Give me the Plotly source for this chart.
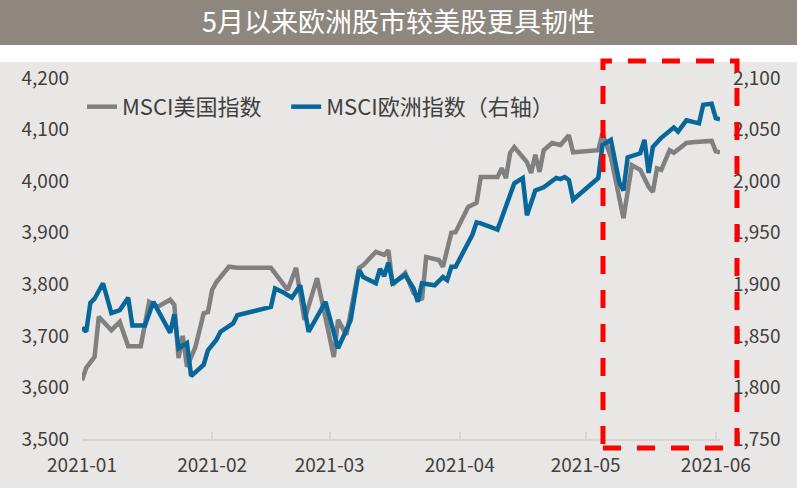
import plotly.graph_objects as go

title = "5月以来欧洲股市较美股更具韧性"

us_dates = ["2021-01-01", "2021-01-02", "2021-01-04", "2021-01-05", "2021-01-08", "2021-01-10",
            "2021-01-12", "2021-01-15", "2021-01-17", "2021-01-19", "2021-01-22", "2021-01-23",
            "2021-01-24", "2021-01-25", "2021-01-26", "2021-01-28", "2021-01-30", "2021-01-31",
            "2021-02-01", "2021-02-02", "2021-02-05", "2021-02-07", "2021-02-15", "2021-02-19",
            "2021-02-21", "2021-02-23", "2021-02-26", "2021-03-02", "2021-03-03", "2021-03-05",
            "2021-03-08", "2021-03-09", "2021-03-12", "2021-03-14", "2021-03-15", "2021-03-16",
            "2021-03-19", "2021-03-21", "2021-03-23", "2021-03-24", "2021-03-27", "2021-03-28",
            "2021-03-30", "2021-03-31", "2021-04-03", "2021-04-05", "2021-04-06", "2021-04-10",
            "2021-04-11", "2021-04-12", "2021-04-13", "2021-04-14", "2021-04-17", "2021-04-18",
            "2021-04-19", "2021-04-20", "2021-04-21", "2021-04-23", "2021-04-25", "2021-04-27",
            "2021-04-28", "2021-05-04", "2021-05-05", "2021-05-06", "2021-05-07", "2021-05-10",
            "2021-05-11", "2021-05-12", "2021-05-14", "2021-05-16", "2021-05-17", "2021-05-18",
            "2021-05-19", "2021-05-21", "2021-05-22", "2021-05-25", "2021-05-27", "2021-05-29",
            "2021-05-31", "2021-06-01", "2021-06-02"]
us_values = [3614, 3638, 3659, 3737, 3711, 3727,
             3680, 3680, 3766, 3756, 3770, 3760,
             3657, 3700, 3640, 3678, 3744, 3746,
             3789, 3804, 3834, 3832, 3832, 3789,
             3832, 3731, 3812, 3659, 3731, 3702,
             3832, 3837, 3863, 3857, 3866, 3799,
             3822, 3783, 3770, 3853, 3847, 3834,
             3900, 3901, 3950, 3958, 4008, 4008,
             4025, 4006, 4055, 4066, 4037, 4016,
             4051, 4018, 4060, 4074, 4070, 4089,
             4056, 4060, 4093, 4070, 4047, 3928,
             3983, 4031, 4022, 3989, 3979, 4025,
             4022, 4060, 4055, 4074, 4076, 4076,
             4078, 4058, 4056]

eu_dates = ["2021-01-01", "2021-01-02", "2021-01-03", "2021-01-04", "2021-01-06", "2021-01-08",
            "2021-01-10", "2021-01-12", "2021-01-13", "2021-01-16", "2021-01-18", "2021-01-22",
            "2021-01-23", "2021-01-24", "2021-01-26", "2021-01-27", "2021-01-30", "2021-01-31",
            "2021-02-02", "2021-02-03", "2021-02-06", "2021-02-07", "2021-02-15", "2021-02-16",
            "2021-02-18", "2021-02-20", "2021-02-22", "2021-02-24", "2021-02-28", "2021-03-03",
            "2021-03-06", "2021-03-07", "2021-03-08", "2021-03-09", "2021-03-12", "2021-03-13",
            "2021-03-14", "2021-03-15", "2021-03-16", "2021-03-19", "2021-03-21", "2021-03-22",
            "2021-03-23", "2021-03-26", "2021-03-28", "2021-03-29", "2021-03-30", "2021-03-31",
            "2021-04-04", "2021-04-05", "2021-04-06", "2021-04-10", "2021-04-12", "2021-04-14",
            "2021-04-16", "2021-04-17", "2021-04-19", "2021-04-21", "2021-04-24", "2021-04-25",
            "2021-04-26", "2021-04-27", "2021-04-28", "2021-05-01", "2021-05-04", "2021-05-05",
            "2021-05-07", "2021-05-09", "2021-05-10", "2021-05-11", "2021-05-14", "2021-05-15",
            "2021-05-16", "2021-05-17", "2021-05-19", "2021-05-22", "2021-05-23", "2021-05-25",
            "2021-05-28", "2021-05-29", "2021-05-31", "2021-06-01", "2021-06-02"]
eu_values = [1858, 1854, 1882, 1886, 1901, 1872,
             1875, 1887, 1860, 1860, 1883, 1853,
             1871, 1838, 1843, 1811, 1822, 1836,
             1846, 1854, 1862, 1870, 1878, 1896,
             1892, 1887, 1899, 1854, 1883, 1838,
             1865, 1887, 1914, 1907, 1901, 1915,
             1908, 1921, 1901, 1909, 1896, 1883,
             1901, 1899, 1907, 1904, 1917, 1917,
             1948, 1960, 1959, 1953, 1977, 1998,
             2003, 1967, 1991, 1994, 2003, 2002,
             2004, 2001, 1982, 1993, 2003, 2035,
             2040, 1999, 1991, 2023, 2027, 2040,
             2008, 2033, 2042, 2052, 2048, 2059,
             2056, 2074, 2075, 2061, 2060]

left_ticks = [3500, 3600, 3700, 3800, 3900, 4000, 4100, 4200]
right_ticks = [1750, 1800, 1850, 1900, 1950, 2000, 2050, 2100]

font = "Noto Sans CJK SC"
bg = "#e8e7e5"
axis_col = "#d6d5d3"

fig = go.Figure()
# trailing no-break spaces push the second legend entry to the right
fig.add_trace(go.Scatter(x=us_dates, y=us_values, name="MSCI美国指数" + "\u00a0" * 4, mode="lines",
                         line=dict(color="#808080", width=4.5)))
fig.add_trace(go.Scatter(x=eu_dates, y=eu_values, name="MSCI欧洲指数（右轴）", mode="lines",
                         line=dict(color="#07679a", width=4.5), yaxis="y2"))

fig.update_layout(
    width=797, height=488,
    margin=dict(l=82, r=77, t=78, b=49),
    paper_bgcolor=bg, plot_bgcolor=bg,
    font=dict(family=font, size=19, color="#404040"),
    showlegend=True,
    legend=dict(orientation="h", x=0.0, xanchor="left", y=0.92, yanchor="middle",
                bgcolor="rgba(0,0,0,0)", font=dict(size=22, color="#404040")),
    xaxis=dict(type="date", range=["2021-01-01", "2021-06-02"],
               tick0="2021-01-01", dtick="M1", tickformat="%Y-%m",
               showgrid=False, zeroline=False,
               showline=True, linecolor=axis_col, linewidth=2,
               ticks="inside", ticklen=7, tickwidth=2, tickcolor=axis_col,
               ticklabelstandoff=8, automargin=False),
    yaxis=dict(range=[3500, 4200], tickvals=left_ticks, tickformat=",d",
               showgrid=False, zeroline=False, showline=False, ticks="",
               ticklabelstandoff=12, automargin=False),
    yaxis2=dict(range=[1750, 2100], tickvals=right_ticks, tickformat=",d",
                overlaying="y", side="right",
                showgrid=False, zeroline=False, showline=False, ticks="",
                ticklabelstandoff=12, automargin=False),
    shapes=[
        dict(type="rect", xref="paper", yref="paper", x0=-0.2, x1=1.2, y0=1.0914, y1=1.25,
             fillcolor="#8e877d", line=dict(width=0), layer="above"),
        dict(type="rect", xref="paper", yref="paper", x0=-0.2, x1=1.2, y0=1.0443, y1=1.0914,
             fillcolor="#ffffff", line=dict(width=0), layer="above"),
        dict(type="rect", xref="paper", yref="paper", x0=0.8166, x1=1.0266, y0=-0.025, y1=1.047,
             line=dict(color="#ff0000", width=5, dash="18px,16px"), layer="above"),
    ],
    annotations=[
        dict(text=title, xref="paper", yref="paper", x=(398.5 - 82) / 638, y=1.16,
             xanchor="center", yanchor="middle", showarrow=False,
             font=dict(family=font, size=27, color="#ffffff")),
    ],
)

fig.write_html("out.html", config={"displayModeBar": False},
               post_script="document.body.style.margin='0px';")
